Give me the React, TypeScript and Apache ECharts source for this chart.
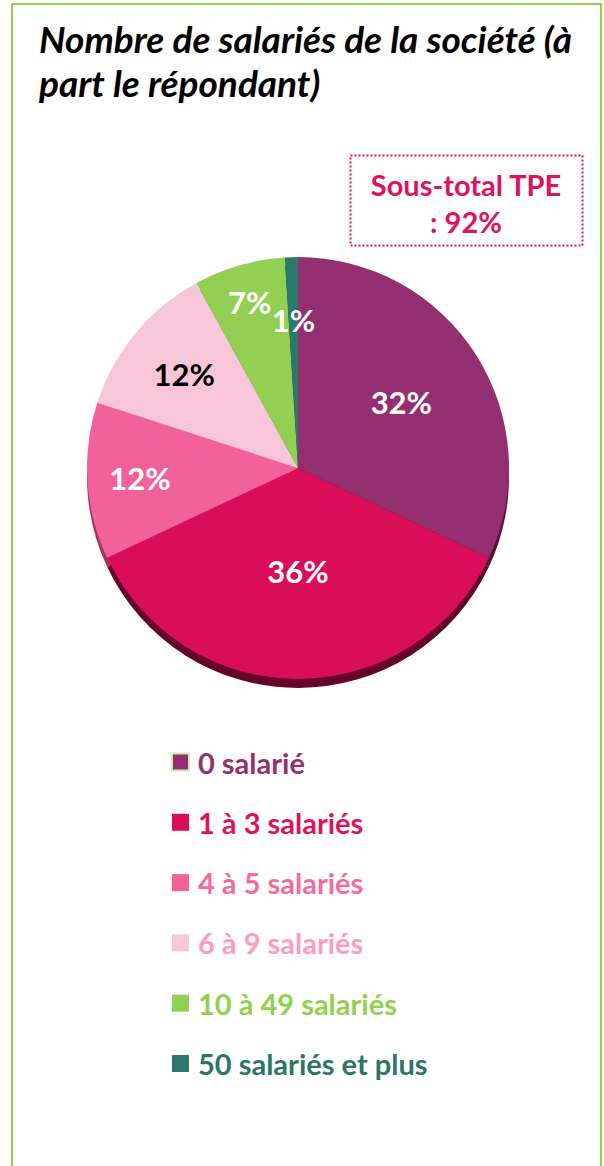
import React, { useEffect, useRef } from "react";
import * as echarts from "echarts";

const titleText = "Nombre de salariés de la société (à\npart le répondant)";
const categories = [
  "0 salarié",
  "1 à 3 salariés",
  "4 à 5 salariés",
  "6 à 9 salariés",
  "10 à 49 salariés",
  "50 salariés et plus",
];
const values = [32, 36, 12, 12, 7, 1];
const tpeCategoryCount = 4; // first four categories make up the TPE sub-total
const subtotalLabel = "Sous-total TPE";

const sliceColors = ["#932F6E", "#DA0D58", "#F3619A", "#F8C6D9", "#93CF52", "#2D786C"];
const sideColors = ["#52133C", "#640426", "#A8355F", "#B88A9A", "#5E8A33", "#1B4A42"];
const legendTextColors = ["#943169", "#E0105B", "#F56B9B", "#FF9BBE", "#92D050", "#2E7469"];
const labelColors = ["#FFFFFF", "#FFFFFF", "#FFFFFF", "#000000", "#FFFFFF", "#FFFFFF"];
const labelRadius = [0.58, 0.49, 0.75, 0.7, 0.82, 0.7];

const FONT = "Lato";
const CX = 298;
const CY = 468;
const R = 211;

export default function App() {
  const ref = useRef<HTMLDivElement>(null);

  useEffect(() => {
    if (!ref.current) return;
    const chart = echarts.init(ref.current, undefined, { renderer: "svg" });
    const total = values.reduce((a, b) => a + b, 0);
    const mids: number[] = [];
    let acc = 0;
    values.forEach((v) => {
      mids.push(((acc + v / 2) / total) * Math.PI * 2);
      acc += v;
    });
    const tpe = values.slice(0, tpeCategoryCount).reduce((a, b) => a + b, 0);

    chart.setOption({
      animation: false,
      backgroundColor: "#FFFFFF",
      title: {
        text: titleText,
        left: 34,
        top: 11,
        textStyle: {
          fontFamily: FONT,
          fontSize: 37,
          fontWeight: "bold",
          fontStyle: "italic",
          color: "#000000",
          lineHeight: 44,
        },
      },
      legend: {
        orient: "vertical",
        left: 166,
        top: 741,
        itemWidth: 17,
        itemHeight: 17,
        itemGap: 28.3,
        icon: "rect",
        selectedMode: false,
        data: categories.map((c, i) => ({
          name: c,
          itemStyle:
            i === 0
              ? { color: sliceColors[i], borderColor: "#C9EDB2", borderWidth: 2 }
              : { color: sliceColors[i] },
          textStyle: { color: legendTextColors[i] },
        })),
        textStyle: {
          fontFamily: FONT,
          fontSize: 29,
          fontWeight: "bold",
          lineHeight: 32,
          padding: [0, 0, 0, 4],
        },
      },
      graphic: [
        {
          type: "rect",
          shape: { x: 12, y: 4, width: 589, height: 1250 },
          style: { fill: "none", stroke: "#92D050", lineWidth: 2 },
          silent: true,
        },
        {
          type: "rect",
          shape: { x: 350.5, y: 155.5, width: 232, height: 90 },
          style: { fill: "none", stroke: "#E0115F", lineWidth: 2, lineDash: [2, 2] },
          silent: true,
        },
        {
          type: "text",
          x: 466,
          y: 203,
          style: {
            text: subtotalLabel + "\n: " + tpe + "%",
            align: "center",
            verticalAlign: "middle",
            fontFamily: FONT,
            fontSize: 29,
            fontWeight: "bold",
            lineHeight: 37,
            fill: "#E0115F",
          },
          silent: true,
        },
      ],
      series: [
        {
          type: "pie",
          name: "main",
          center: [CX, CY],
          radius: R,
          startAngle: 90,
          clockwise: true,
          z: 3,
          silent: true,
          data: categories.map((c, i) => ({
            name: c,
            value: values[i],
            itemStyle: { color: sliceColors[i] },
            label: { color: labelColors[i] },
          })),
          label: {
            show: true,
            position: "inside",
            formatter: "{c}%",
            fontFamily: FONT,
            fontSize: 31,
            fontWeight: "bold",
          },
          labelLine: { show: false },
          labelLayout: (p: any) => {
            const i = p.dataIndex;
            const a = mids[i];
            const r = labelRadius[i] * R;
            return {
              x: CX + r * Math.sin(a),
              y: CY - r * Math.cos(a),
              align: "center",
              verticalAlign: "middle",
            };
          },
        },
        {
          type: "pie",
          name: "side",
          center: [CX, CY + 9],
          radius: R,
          startAngle: 90,
          clockwise: true,
          z: 1,
          silent: true,
          label: { show: false },
          labelLine: { show: false },
          data: categories.map((c, i) => ({
            name: c,
            value: values[i],
            itemStyle: { color: sideColors[i] },
          })),
        },
      ],
    });
    return () => chart.dispose();
  }, []);

  return (
    <div
      ref={ref}
      style={{ position: "absolute", left: 0, top: 0, width: 604, height: 1166 }}
    />
  );
}
